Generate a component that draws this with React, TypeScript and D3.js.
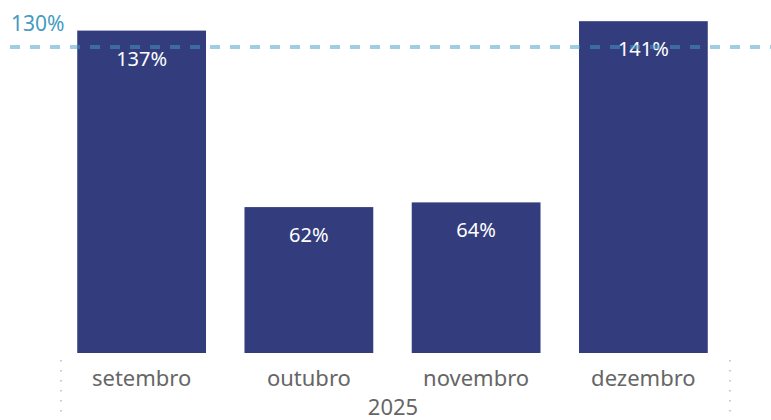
import React from "react";
import * as d3 from "d3";

const months = ["setembro", "outubro", "novembro", "dezembro"];
const values = [137, 62, 64, 141];
const targetValue = 130;
const yearLabel = "2025";

const W = 771;
const H = 420;
const FONT = "'Segoe UI', 'Noto Sans', 'Open Sans', sans-serif";

export default function App() {
  const x = d3
    .scaleBand<string>()
    .domain(months)
    .range([58, 727])
    .paddingInner(0.23)
    .paddingOuter(0.115);

  const y = d3.scaleLinear().domain([0, 150]).range([353, 0]);

  const yTarget = y(targetValue);

  return (
    <svg
      width={W}
      height={H}
      style={{ position: "absolute", left: 0, top: 0, background: "#fff" }}
      fontFamily={FONT}
    >
      {/* bars */}
      {months.map((m, i) => (
        <g key={m}>
          <rect
            x={x(m)}
            y={y(values[i])}
            width={x.bandwidth()}
            height={y(0) - y(values[i])}
            fill="#333D7E"
          />
          <text
            x={(x(m) ?? 0) + x.bandwidth() / 2}
            y={y(values[i]) + 35}
            textAnchor="middle"
            fontSize={20}
            fill="#ffffff"
          >
            {values[i]}%
          </text>
        </g>
      ))}

      {/* target line */}
      <line
        x1={10}
        x2={W}
        y1={yTarget}
        y2={yTarget}
        stroke="#459BC2"
        strokeOpacity={0.5}
        strokeWidth={4}
        strokeDasharray="10,10"
      />
      <text x={11} y={31} fontSize={21} fill="#459BC2">
        {targetValue}%
      </text>

      {/* x axis labels */}
      {months.map((m) => (
        <text
          key={m}
          x={(x(m) ?? 0) + x.bandwidth() / 2}
          y={386}
          textAnchor="middle"
          fontSize={22}
          fill="#666666"
        >
          {m}
        </text>
      ))}
      <text x={393} y={415} textAnchor="middle" fontSize={22} fill="#666666">
        {yearLabel}
      </text>

      {/* dotted group separators */}
      {[61, 730].map((xx) => (
        <line
          key={xx}
          x1={xx}
          x2={xx}
          y1={360}
          y2={H}
          stroke="#bbbbbb"
          strokeWidth={1.5}
          strokeDasharray="1.5,8.5"
        />
      ))}
    </svg>
  );
}
